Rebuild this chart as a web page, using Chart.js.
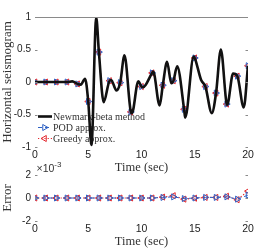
<!DOCTYPE html>
<html>
<head>
<meta charset="utf-8">
<script src="https://cdn.jsdelivr.net/npm/chart.js@4.4.1/dist/chart.umd.min.js"></script>
<style>
  html, body { margin: 0; padding: 0; background: #fff; }
  #wrap { position: relative; width: 274px; height: 249px; overflow: hidden; }
  #wrap canvas { position: absolute; left: 0; }
  #seisChart { top: 0; }
  #errChart { top: 160px; }
</style>
</head>
<body>
<div id="wrap">
  <canvas id="seisChart" width="274" height="175"></canvas>
  <canvas id="errChart" width="274" height="89"></canvas>
</div>
<script>
// ================= DATA =================
// seismogram (markers sit on the whole seconds)
const seisTime = [0, 1, 2, 3, 3.5, 4, 4.3, 4.7, 5, 5.3, 5.75, 6, 6.45, 7, 7.15, 7.65, 8, 8.4, 9, 9.1,
  9.7, 10, 10.15, 11, 11.1, 11.7, 12, 12.4, 12.8, 13, 13.35, 14, 14.1, 14.9, 15, 15.6, 16, 16.6,
  17, 17.45, 18, 18.05, 18.6, 19, 19.6, 20];
const seisValue = [0, 0, 0, 0, 0.01, -0.03, -0.04, 0.05, -0.3, -0.97, 0.99, 0.46, -0.31, 0.02, 0.03, -0.13, -0.01, 0.41, -0.46, -0.48,
  0.01, -0.07, -0.08, 0.14, 0.16, -0.36, -0.05, 0.31, -0.02, 0.02, 0.24, -0.42, -0.55, 0.39, 0.37, 0.03, -0.07, -0.48,
  -0.17, 0.5, -0.34, -0.35, 0.13, 0.09, -0.39, 0.25];

// error (x 1e-3)
const errTime = [0, 1, 2, 3, 4, 5, 6, 7, 8, 9, 10, 11, 12, 13, 14, 15, 16, 17, 18, 19, 20];
const errPOD = [0, 0, 0, 0, 0, 0, 0, 0, 0, 0, 0, 0, 0.05, 0.1, -0.05, 0, 0.05, 0.05, 0.1, -0.1, 0.25];
const errGreedy = [0, 0, 0, 0, 0, 0, 0, 0, 0, 0, 0, 0, 0.08, 0.2, -0.1, -0.02, 0.05, 0.05, 0.15, -0.15, 0.6];

const seriesNames = ["Newmark-beta method", "POD approx.", "Greedy approx."];
const timeTicks = [0, 5, 10, 15, 20];
const seisTicks = [-1, -0.5, 0, 0.5, 1];
const errTicks = [-2, 0, 2];

// ================= STYLE =================
const BLUE = "#2f62c4";
const RED = "#e3262c";
const SANS = "'Liberation Sans', Arial, sans-serif";
const SERIF = "'Liberation Serif', 'Times New Roman', serif";

function toPoints(xs, ys) {
  return xs.map((x, i) => ({ x: x, y: ys[i] }));
}

// markers only on whole seconds
function markerRadius(ctx) {
  return ctx.raw && Number.isInteger(ctx.raw.x) ? 3.5 : 0;
}

function timeAxis(height) {
  return {
    type: "linear",
    min: 0,
    max: 20,
    afterBuildTicks: s => { s.ticks = timeTicks.map(v => ({ value: v })); },
    afterFit: s => { s.height = height; },
    grid: { display: false, drawTicks: false },
    border: { display: false },
    ticks: { color: "#222", font: { family: SANS, size: 10.5 }, padding: 2, maxRotation: 0, autoSkip: false,
      callback: v => String(v) },
    title: { display: true, text: "Time (sec)", color: "#333", font: { family: SERIF, size: 12.5 }, padding: 0 }
  };
}

function valueAxis(min, max, ticks, label) {
  return {
    min: min,
    max: max,
    afterBuildTicks: s => { s.ticks = ticks.map(v => ({ value: v })); },
    afterFit: s => { s.width = 35; },
    grid: { display: false, drawTicks: false },
    border: { display: false },
    ticks: { color: "#222", font: { family: SANS, size: 10 }, padding: 4, callback: v => String(v) },
    title: { display: true, text: label, color: "#333", font: { family: SERIF, size: 13 }, padding: 0 }
  };
}

// ================= PLUGINS =================
// gray top rule + short inward ticks, like the matlab box
const frameMarks = {
  id: "frameMarks",
  afterDraw(chart, args, opts) {
    const { ctx, chartArea } = chart;
    const y = chart.scales.y;
    ctx.save();
    ctx.strokeStyle = "#8a8a8a";
    ctx.lineWidth = 1;
    if (opts.topRule) {
      ctx.beginPath();
      ctx.moveTo(chartArea.left, chartArea.top + 0.5);
      ctx.lineTo(chartArea.right, chartArea.top + 0.5);
      ctx.stroke();
    }
    y.ticks.forEach(t => {
      const py = Math.round(y.getPixelForValue(t.value)) + 0.5;
      ctx.beginPath();
      ctx.moveTo(chartArea.left, py);
      ctx.lineTo(chartArea.left + 2.5, py);
      ctx.moveTo(chartArea.right - 2.5, py);
      ctx.lineTo(chartArea.right, py);
      ctx.stroke();
    });
    ctx.restore();
  }
};

// legend inside the plot, no box
const insideLegend = {
  id: "insideLegend",
  beforeDatasetsDraw(chart) {
    const ctx = chart.ctx;
    chart.data.datasets.forEach((ds, i) => {
      const y = 116.5 + i * 11;
      ctx.save();
      ctx.strokeStyle = ds.borderColor;
      ctx.lineWidth = ds.borderWidth;
      ctx.setLineDash(ds.borderDash || []);
      ctx.beginPath();
      ctx.moveTo(38, y);
      ctx.lineTo(52, y);
      ctx.stroke();
      ctx.setLineDash([]);
      if (ds.pointStyle) {
        ctx.fillStyle = "rgba(0,0,0,0)";
        ctx.lineWidth = 1;
        Chart.helpers.drawPoint(ctx, {
          pointStyle: ds.pointStyle, radius: 3.5, rotation: ds.pointRotation, borderWidth: 1
        }, 44.5, y);
      }
      ctx.fillStyle = "#333";
      ctx.font = "10px " + SERIF;
      ctx.textBaseline = "middle";
      ctx.fillText(ds.label, 53, y + 0.5);
      ctx.restore();
    });
  }
};

// x10^-3 scale note above the error plot
const expNote = {
  id: "expNote",
  afterDraw(chart) {
    const ctx = chart.ctx;
    ctx.save();
    ctx.fillStyle = "#333";
    ctx.textBaseline = "middle";
    ctx.font = "10.5px " + SANS;
    ctx.fillText("\u00d710", 36.5, 9.5);
    const w = ctx.measureText("\u00d710").width;
    ctx.font = "8px " + SANS;
    ctx.fillText("-3", 36.5 + w, 5);
    ctx.restore();
  }
};

const common = {
  responsive: false,
  animation: false,
  events: [],
  plugins: { legend: { display: false }, tooltip: { enabled: false } }
};

// ================= SEISMOGRAM =================
new Chart(document.getElementById("seisChart"), {
  type: "line",
  data: {
    datasets: [
      {
        label: seriesNames[0],
        data: toPoints(seisTime, seisValue),
        borderColor: "#111",
        borderWidth: 2.6,
        pointRadius: 0,
        cubicInterpolationMode: "monotone"
      },
      {
        label: seriesNames[1],
        data: toPoints(seisTime, seisValue),
        borderColor: BLUE,
        borderWidth: 1,
        borderDash: [4, 3],
        pointRadius: markerRadius,
        pointStyle: "triangle",
        pointRotation: 90,
        pointBorderColor: BLUE,
        pointBackgroundColor: "rgba(0,0,0,0)",
        pointBorderWidth: 1,
        cubicInterpolationMode: "monotone"
      },
      {
        label: seriesNames[2],
        data: toPoints(seisTime, seisValue),
        borderColor: RED,
        borderWidth: 1.2,
        borderDash: [1.2, 2],
        pointRadius: markerRadius,
        pointStyle: "triangle",
        pointRotation: -90,
        pointBorderColor: RED,
        pointBackgroundColor: "rgba(0,0,0,0)",
        pointBorderWidth: 1,
        cubicInterpolationMode: "monotone"
      }
    ]
  },
  options: {
    ...common,
    layout: { padding: { top: 17, right: 26, left: 0, bottom: 0 } },
    plugins: { ...common.plugins, frameMarks: { topRule: true } },
    scales: {
      x: timeAxis(28),
      y: valueAxis(-1, 1, seisTicks, "Horizontal seismogram")
    }
  },
  plugins: [insideLegend, frameMarks]
});

// ================= ERROR =================
new Chart(document.getElementById("errChart"), {
  type: "line",
  data: {
    datasets: [
      {
        label: seriesNames[1],
        data: toPoints(errTime, errPOD),
        borderColor: BLUE,
        borderWidth: 1,
        borderDash: [4, 3],
        pointRadius: 3.5,
        pointStyle: "triangle",
        pointRotation: 90,
        pointBorderColor: BLUE,
        pointBackgroundColor: "rgba(0,0,0,0)",
        pointBorderWidth: 1
      },
      {
        label: seriesNames[2],
        data: toPoints(errTime, errGreedy),
        borderColor: RED,
        borderWidth: 1.2,
        borderDash: [1.2, 2],
        pointRadius: 3.5,
        pointStyle: "triangle",
        pointRotation: -90,
        pointBorderColor: RED,
        pointBackgroundColor: "rgba(0,0,0,0)",
        pointBorderWidth: 1
      }
    ]
  },
  options: {
    ...common,
    layout: { padding: { top: 15, right: 26, left: 0, bottom: 0 } },
    plugins: { ...common.plugins, frameMarks: { topRule: false } },
    scales: {
      x: timeAxis(28),
      y: valueAxis(-2, 2, errTicks, "Error")
    }
  },
  plugins: [frameMarks, expNote]
});
</script>
</body>
</html>
